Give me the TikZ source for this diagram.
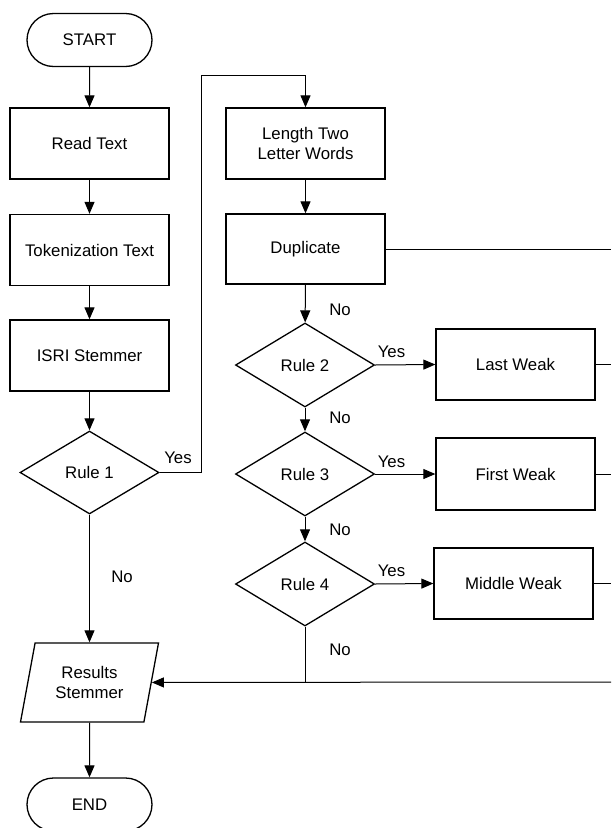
\documentclass[tikz,border=0pt]{standalone}
\usepackage{fontspec}
\setmainfont{Liberation Sans}
\usetikzlibrary{shapes.geometric,shapes.misc,arrows.meta}
\begin{document}
\begin{tikzpicture}[x=1pt,y=-1pt,
  every node/.style={font=\fontsize{16.8}{19.5}\selectfont},
  boxnode/.style={draw,line width=1.3pt,minimum width=159pt,minimum height=71pt,inner sep=0pt,align=center},
  termnode/.style={draw,line width=1.3pt,rounded rectangle,minimum width=125pt,minimum height=53pt,inner sep=0pt},
  decnode/.style={draw,line width=1.3pt,diamond,minimum width=139pt,minimum height=84pt,inner sep=0pt},
  ionode/.style={draw,line width=1.3pt,trapezium,trapezium stretches=true,trapezium left angle=74,trapezium right angle=106,minimum width=139pt,minimum height=79pt,inner sep=0pt,align=center},
  conn/.style={line width=1pt},
  arr/.style={conn,-{Triangle[length=12pt,width=10pt]}},
  lbl/.style={inner sep=0pt}
]
\useasboundingbox (0,0) rectangle (611,828);
% left column
\node[termnode] (start) at (89.5,40) {START};
\node[boxnode] (read) at (89.5,143.5) {Read Text};
\node[boxnode] (tok) at (89.5,250) {Tokenization Text};
\node[boxnode] (isri) at (89.5,355.5) {ISRI Stemmer};
\node[decnode,minimum height=83pt] (r1) at (89.5,472.5) {Rule 1};
\node[ionode] (res) at (89.5,682.5) {Results\\Stemmer};
\node[termnode] (end) at (89.5,804.5) {END};
% middle column
\node[boxnode] (len) at (305.5,143.5) {Length Two\\Letter Words};
\node[boxnode,minimum height=70pt] (dup) at (305.5,249) {Duplicate};
\node[decnode] (r2) at (305,365) {Rule 2};
\node[decnode] (r3) at (305,474) {Rule 3};
\node[decnode] (r4) at (305,584) {Rule 4};
% right column
\node[boxnode] (last) at (515.5,364.5) {Last Weak};
\node[boxnode,minimum height=72pt] (first) at (515.5,474) {First Weak};
\node[boxnode] (mid) at (513.5,583.5) {Middle Weak};
% coordinates
\coordinate (y1) at (201,472.5);
\coordinate (y2) at (201,75);
\coordinate (y3) at (305.5,75);
\coordinate (e1) at (611,249);
\coordinate (e2) at (611,364.5);
\coordinate (e3) at (611,474);
\coordinate (e4) at (611,583.5);
\coordinate (e5) at (611,682);
\coordinate (j) at (305,682);
% connectors
\draw[arr] (start) -- (read);
\draw[arr] (read) -- (tok);
\draw[arr] (tok) -- (isri);
\draw[arr] (isri) -- (r1);
\draw[arr] (r1) -- (res);
\draw[arr] (res) -- (end);
\draw[arr] (r1.east) -- (y1) -- (y2) -- (y3) -- (len.north);
\draw[arr] (len) -- (dup);
\draw[arr] (dup) -- (r2);
\draw[arr] (r2) -- (r3);
\draw[arr] (r3) -- (r4);
\draw[arr] (r2.east) -- (last.west);
\draw[arr] (r3.east) -- (first.west);
\draw[arr] (r4.east) -- (mid.west);
\draw[conn] (dup.east) -- (e1);
\draw[conn] (last.east) -- (e2);
\draw[conn] (first.east) -- (e3);
\draw[conn] (mid.east) -- (e4);
\draw[conn] (r4.south) -- (j);
\draw[arr] (e5) -- (res);
% labels
\node[lbl] (lyes1) at (178,458) {Yes};
\node[lbl] (lno1) at (122,577) {No};
\node[lbl] (lno0) at (340,310) {No};
\node[lbl] (lyes2) at (391.5,352) {Yes};
\node[lbl] (lno2) at (340,418) {No};
\node[lbl] (lyes3) at (391.5,462) {Yes};
\node[lbl] (lno3) at (340,530) {No};
\node[lbl] (lyes4) at (391.5,571) {Yes};
\node[lbl] (lno4) at (340,650) {No};
\end{tikzpicture}
\end{document}
